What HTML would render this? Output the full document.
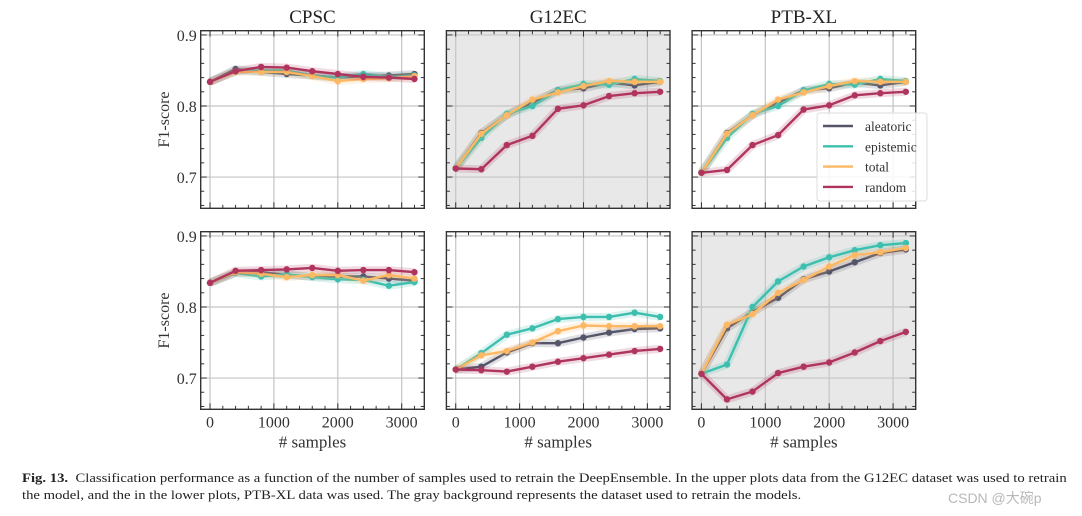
<!DOCTYPE html>
<html><head><meta charset="utf-8">
<style>
body{margin:0;background:#fff;}
#wrap{position:relative;width:1082px;height:516px;overflow:hidden;font-family:"Liberation Serif",serif;}
.cap{position:absolute;left:22px;font-size:13px;color:#222;font-family:"Liberation Serif",serif;white-space:nowrap;transform-origin:0 0;transform:scaleX(1.13);}
</style></head><body>
<div id="wrap">
<svg id="chart" width="1082" height="516"></svg>
<div class="cap" style="top:470px"><b>Fig. 13.</b>&nbsp; Classification performance as a function of the number of samples used to retrain the DeepEnsemble. In the upper plots data from the G12EC dataset was used to retrain</div>
<div class="cap" style="top:487px">the model, and the in the lower plots, PTB-XL data was used. The gray background represents the dataset used to retrain the models.</div>
<div style="position:absolute;left:948px;top:488px;font-size:14px;color:#b8b8b8;font-family:'Liberation Sans','Noto Sans CJK SC',sans-serif;">CSDN @大碗p</div>
</div>
<script>
const samples=[0,400,800,1200,1600,2000,2400,2800,3200];
const xTicks=[0,1000,2000,3000];
const yTicks=[0.7,0.8,0.9];
const titles=["CPSC","G12EC","PTB-XL"];
const seriesNames=["aleatoric","epistemic","total","random"];
const colors={aleatoric:"#55556a",epistemic:"#3cbfae",total:"#fdb863",random:"#b0355e"};
const t_cpsc_ale=[0.834,0.852,0.848,0.845,0.843,0.840,0.842,0.843,0.845];
const t_cpsc_epi=[0.834,0.849,0.850,0.850,0.843,0.840,0.845,0.841,0.843];
const t_cpsc_tot=[0.834,0.848,0.848,0.848,0.842,0.835,0.838,0.839,0.842];
const t_cpsc_ran=[0.834,0.849,0.855,0.854,0.849,0.845,0.841,0.840,0.838];
const t_g12_ale=[0.712,0.762,0.787,0.805,0.822,0.825,0.833,0.829,0.834];
const t_g12_epi=[0.712,0.755,0.789,0.800,0.822,0.831,0.830,0.838,0.835];
const t_g12_tot=[0.712,0.761,0.787,0.809,0.819,0.828,0.835,0.834,0.834];
const t_g12_ran=[0.712,0.711,0.745,0.758,0.796,0.801,0.814,0.818,0.820];
const t_ptb_ale=[0.706,0.762,0.787,0.805,0.822,0.825,0.833,0.829,0.834];
const t_ptb_epi=[0.706,0.755,0.789,0.800,0.822,0.831,0.830,0.838,0.835];
const t_ptb_tot=[0.706,0.761,0.787,0.809,0.819,0.828,0.835,0.834,0.834];
const t_ptb_ran=[0.706,0.710,0.745,0.759,0.795,0.801,0.815,0.818,0.820];
const b_cpsc_ale=[0.834,0.848,0.849,0.845,0.843,0.843,0.843,0.840,0.837];
const b_cpsc_epi=[0.834,0.848,0.843,0.846,0.842,0.839,0.838,0.830,0.835];
const b_cpsc_tot=[0.834,0.849,0.847,0.842,0.845,0.845,0.837,0.845,0.840];
const b_cpsc_ran=[0.834,0.851,0.852,0.853,0.855,0.851,0.852,0.852,0.849];
const b_g12_ale=[0.712,0.716,0.736,0.749,0.749,0.757,0.764,0.769,0.770];
const b_g12_epi=[0.712,0.735,0.761,0.770,0.783,0.786,0.786,0.792,0.786];
const b_g12_tot=[0.712,0.732,0.738,0.750,0.766,0.774,0.773,0.773,0.773];
const b_g12_ran=[0.712,0.711,0.709,0.716,0.723,0.728,0.733,0.738,0.741];
const b_ptb_ale=[0.706,0.770,0.793,0.813,0.839,0.850,0.863,0.876,0.881];
const b_ptb_epi=[0.706,0.719,0.800,0.836,0.857,0.870,0.880,0.887,0.890];
const b_ptb_tot=[0.706,0.775,0.790,0.820,0.838,0.857,0.873,0.877,0.883];
const b_ptb_ran=[0.706,0.670,0.681,0.707,0.716,0.722,0.736,0.752,0.765];
const panels=[
 {r:0,c:0,gray:false,d:[t_cpsc_ale,t_cpsc_epi,t_cpsc_tot,t_cpsc_ran]},
 {r:0,c:1,gray:true,d:[t_g12_ale,t_g12_epi,t_g12_tot,t_g12_ran]},
 {r:0,c:2,gray:false,d:[t_ptb_ale,t_ptb_epi,t_ptb_tot,t_ptb_ran]},
 {r:1,c:0,gray:false,d:[b_cpsc_ale,b_cpsc_epi,b_cpsc_tot,b_cpsc_ran]},
 {r:1,c:1,gray:false,d:[b_g12_ale,b_g12_epi,b_g12_tot,b_g12_ran]},
 {r:1,c:2,gray:true,d:[b_ptb_ale,b_ptb_epi,b_ptb_tot,b_ptb_ran]}
];
const NS="http://www.w3.org/2000/svg";
const svg=document.getElementById('chart');
function mk(tag,attrs,parent){const e=document.createElementNS(NS,tag);for(const k in attrs)e.setAttribute(k,attrs[k]);(parent||svg).appendChild(e);return e;}
const PW=223.6,PH=177.6,X0=200.7,Y0=30.7,DX=245.7,DY=201;
const xMin=-146,xMax=3354,yMin=0.656,yMax=0.906;
panels.forEach((p,pi)=>{
 const L=X0+p.c*DX,T=Y0+p.r*DY;
 const xs=v=>L+(v-xMin)/(xMax-xMin)*PW;
 const ys=v=>T+(yMax-v)/(yMax-yMin)*PH;
 const g=mk('g',{});
 
 
 const bg=mk('rect',{x:L,y:T,width:PW,height:PH,fill:p.gray?'#e8e8e8':'#fff'},g);
 
 
 xTicks.forEach(v=>{const l=mk('line',{x1:xs(v),x2:xs(v),y1:T,y2:T+PH,stroke:'#c4c4c4','stroke-width':1.2},g);
  });
 yTicks.forEach(v=>{const l=mk('line',{x1:L,x2:L+PW,y1:ys(v),y2:ys(v),stroke:'#c4c4c4','stroke-width':1.2},g);
  });
 p.d.forEach((arr,si)=>{
  const name=seriesNames[si],col=colors[name];
  const pts=arr.map((v,i)=>xs(samples[i]).toFixed(1)+','+ys(v).toFixed(1)).join(' ');
  const band=mk('polyline',{points:pts,fill:'none',stroke:col,'stroke-opacity':0.18,'stroke-width':8,'stroke-linejoin':'round'},g);
  
  const ln=mk('polyline',{points:pts,fill:'none',stroke:col,'stroke-width':2.4,'stroke-linejoin':'round'},g);
  
  arr.forEach((v,i)=>{const c=mk('circle',{cx:xs(samples[i]),cy:ys(v),r:3.2,fill:col},g);
   });
 });
 for(let v=0;v<=3200;v+=200){const major=v%1000===0,len=major?6:3.5;
  mk('line',{x1:xs(v),x2:xs(v),y1:T+PH,y2:T+PH-len,stroke:'#333','stroke-width':1},g);
  mk('line',{x1:xs(v),x2:xs(v),y1:T,y2:T+len,stroke:'#333','stroke-width':1},g);}
 for(let k=33;k<=45;k++){const v=k/50,major=k%5===0,len=major?6:3.5;
  mk('line',{x1:L,x2:L+len,y1:ys(v),y2:ys(v),stroke:'#333','stroke-width':1},g);
  mk('line',{x1:L+PW,x2:L+PW-len,y1:ys(v),y2:ys(v),stroke:'#333','stroke-width':1},g);}
 const fr=mk('rect',{x:L,y:T,width:PW,height:PH,fill:'none',stroke:'#333','stroke-width':1.4},g);
 
 if(p.r===0){const t=mk('text',{x:L+PW/2,y:23,'text-anchor':'middle','font-size':19,fill:'#222'},g);t.textContent=titles[p.c];
  }
 if(p.c===0){yTicks.forEach(v=>{const t=mk('text',{x:L-4,y:ys(v)+6,'text-anchor':'end','font-size':16,fill:'#333'},g);t.textContent=v.toFixed(1);
   });
  const yl=mk('text',{x:0,y:0,'text-anchor':'middle','font-size':16,fill:'#333',transform:'translate(169,'+(T+PH/2)+') rotate(-90)'},g);yl.textContent='F1-score';
  }
 if(p.r===1){xTicks.forEach(v=>{const t=mk('text',{x:xs(v),y:T+PH+18,'text-anchor':'middle','font-size':16,fill:'#333'},g);t.textContent=v;
   });
  const xl=mk('text',{x:L+PW/2,y:T+PH+38,'text-anchor':'middle','font-size':17,fill:'#333'},g);xl.textContent='# samples';
  }
 if(pi===2){
  const lg=mk('g',{},g);
  mk('rect',{x:817,y:113,width:110,height:88,rx:3,fill:'#fff','fill-opacity':0.85,stroke:'#ddd'},lg);
  seriesNames.forEach((n,i)=>{const y=126+i*20.3;
   mk('line',{x1:823,x2:853,y1:y,y2:y,stroke:colors[n],'stroke-width':2.4},lg);
   const t=mk('text',{x:865,y:y+5,'font-size':13.5,fill:'#333'},lg);t.textContent=n;
   });
 }
});
</script>
</body></html>
